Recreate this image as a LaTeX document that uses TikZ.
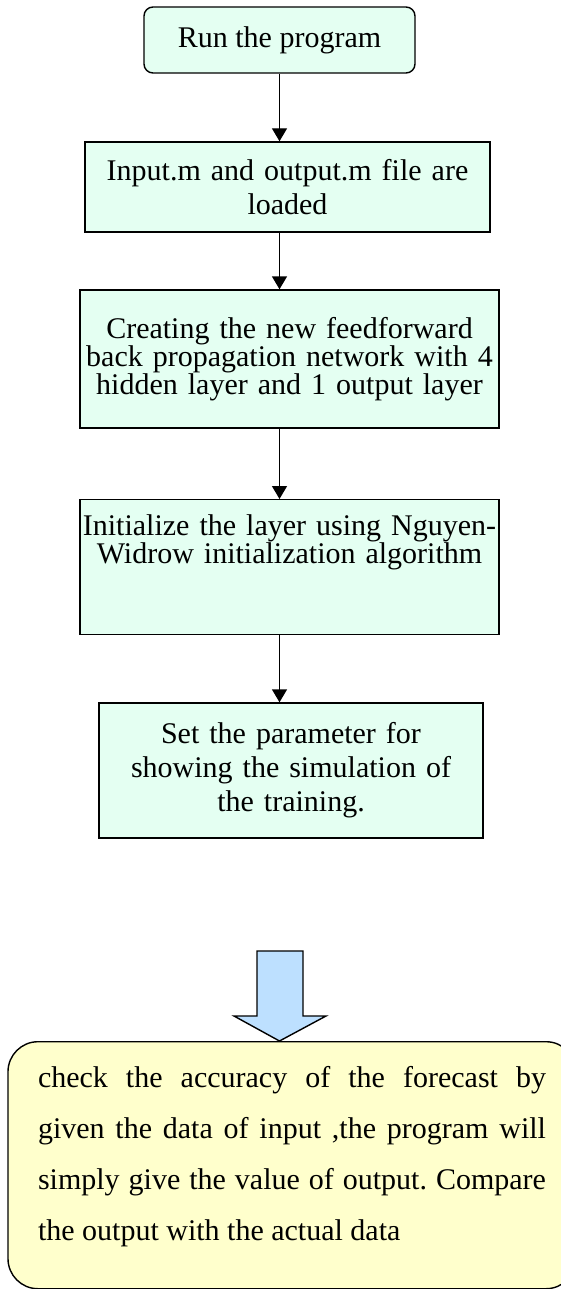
\documentclass[tikz,border=0pt]{standalone}
\usepackage{fontspec}
\setmainfont{Liberation Serif}
\usepackage{tikz}
\usetikzlibrary{positioning, arrows.meta}
\definecolor{boxgreen}{RGB}{228,255,242}
\definecolor{noteyellow}{RGB}{255,255,204}
\definecolor{arrowblue}{RGB}{189,224,255}
\newcommand{\notefont}{\fontsize{30}{51}\selectfont\spaceskip=0.25em plus 0.6em\relax}
\tikzset{
  stepbox/.style={rectangle, draw, line width=1.4pt, fill=boxgreen, align=center, inner xsep=2pt, inner ysep=0pt},
  notebox/.style={rectangle, draw, line width=1.4pt, fill=noteyellow, rounded corners=30pt, align=justify},
  flow/.style={-{Triangle[length=13pt,width=15pt]}, line width=1.4pt},
}
\hyphenpenalty=10000
\frenchspacing
\begin{document}
\begin{tikzpicture}[x=1pt, y=-1pt]
    \useasboundingbox (0,0) rectangle (561,1289);
    \node (run)    at (279.5,40)  [stepbox, rounded corners=9pt, minimum width=271pt, minimum height=66pt, font=\fontsize{30}{34}\selectfont] {Run the program};
    \node (load)   at (287.5,187) [stepbox, text width=401pt, minimum height=90pt, font=\fontsize{30}{34}\selectfont] {Input.m and output.m file are\\loaded};
    \node (create) at (289.5,359) [stepbox, text width=415pt, minimum height=138pt, font=\fontsize{30}{25.5}\selectfont] {Creating the new feedforward\\back propagation network with 4\\hidden layer and 1 output layer};
    \node (init)   at (289.5,499) [stepbox, anchor=north, text width=415pt, inner ysep=15pt, text height=21pt, text depth=84pt, font=\fontsize{30}{26}\selectfont] {Initialize the layer using Nguyen-\\Widrow initialization algorithm};
    \node (param)  at (291,770.5) [stepbox, text width=380pt, minimum height=135pt, font=\fontsize{30}{34}\selectfont] {Set the parameter for\\showing the simulation of\\the training.};
    \node (check)  at (292,1041)  [notebox, anchor=north, text width=508pt, inner xsep=30pt, inner ysep=25pt, text height=21pt, text depth=176pt, font=\notefont] {check the accuracy of the forecast by given the data of input ,the program will simply give the value of output. Compare the output with the actual data};

    \draw[flow] (run) -- (run |- load.north);
    \draw[flow] (run |- load.south) -- (run |- create.north);
    \draw[flow] (run |- create.south) -- (run |- init.north);
    \draw[flow] (run |- init.south) -- (run |- param.north);
    % block arrow down to the note
    \draw[line width=1.4pt, fill=arrowblue] (257,951) -- (303,951) -- (303,1016) -- (326,1016) -- (run |- check.north) -- (234,1016) -- (257,1016) -- cycle;
\end{tikzpicture}
\end{document}
